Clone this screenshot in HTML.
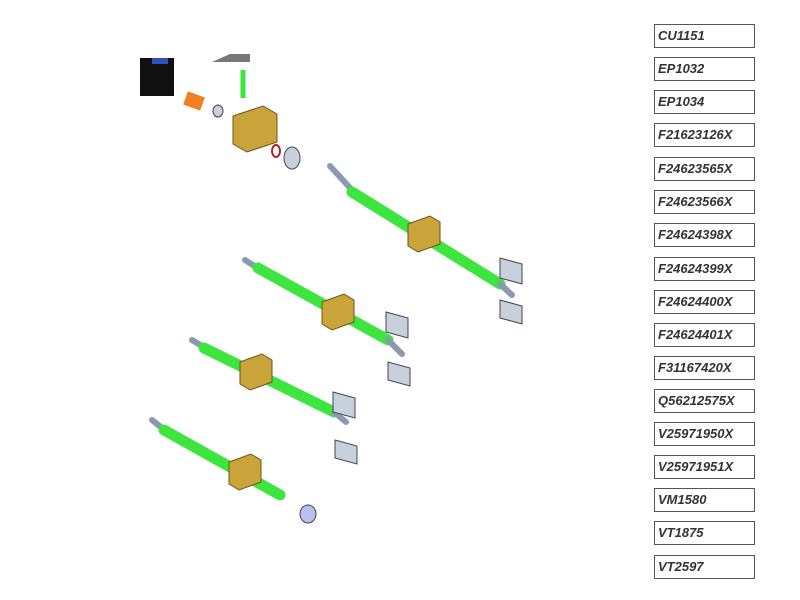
<!DOCTYPE html><html><head><style>body{margin:0;background:#fff}
.b{position:absolute;left:654px;border:1px solid #555;font:italic bold 13px "Liberation Sans",sans-serif;color:#333;line-height:22px;padding-left:3px;box-sizing:border-box;width:101px;height:24px}
</style></head><body><div style="position:relative;width:800px;height:600px;overflow:hidden">
<svg width="800" height="600" style="position:absolute;left:0;top:0">
<g stroke-linecap="round">
<line x1="330" y1="166" x2="352" y2="190" stroke="#8a9ab0" stroke-width="6"/>
<line x1="352" y1="192" x2="500" y2="284" stroke="#3ee53e" stroke-width="11"/>
<line x1="500" y1="284" x2="512" y2="295" stroke="#8a9ab0" stroke-width="6"/>
<line x1="245" y1="260" x2="256" y2="267" stroke="#8a9ab0" stroke-width="6"/>
<line x1="258" y1="268" x2="388" y2="340" stroke="#3ee53e" stroke-width="11"/>
<line x1="388" y1="340" x2="402" y2="354" stroke="#8a9ab0" stroke-width="6"/>
<line x1="192" y1="340" x2="202" y2="346" stroke="#8a9ab0" stroke-width="6"/>
<line x1="204" y1="348" x2="334" y2="412" stroke="#3ee53e" stroke-width="11"/>
<line x1="334" y1="412" x2="346" y2="422" stroke="#8a9ab0" stroke-width="6"/>
<line x1="152" y1="420" x2="162" y2="428" stroke="#8a9ab0" stroke-width="6"/>
<line x1="164" y1="430" x2="280" y2="495" stroke="#3ee53e" stroke-width="11"/>
</g>
<g fill="#c9a43a" stroke="#6b5418" stroke-width="1">
<path d="M408 224 l22 -8 l10 6 v22 l-22 8 l-10 -6z"/>
<path d="M322 302 l22 -8 l10 6 v22 l-22 8 l-10 -6z"/>
<path d="M240 362 l22 -8 l10 6 v22 l-22 8 l-10 -6z"/>
<path d="M229 462 l22 -8 l10 6 v22 l-22 8 l-10 -6z"/>
<path d="M233 116 l30 -10 l14 8 v28 l-30 10 l-14 -8z"/>
</g>
<g fill="#c8d0dc" stroke="#445" stroke-width="1">
<path d="M500 258 l22 6 v20 l-22 -6z"/><path d="M500 300 l22 6 v18 l-22 -6z"/>
<path d="M386 312 l22 6 v20 l-22 -6z"/><path d="M388 362 l22 6 v18 l-22 -6z"/>
<path d="M333 392 l22 6 v20 l-22 -6z"/><path d="M335 440 l22 6 v18 l-22 -6z"/>
<ellipse cx="292" cy="158" rx="8" ry="11"/>
<ellipse cx="218" cy="111" rx="5" ry="6"/>
</g>
<ellipse cx="308" cy="514" rx="8" ry="9" fill="#b8c0f0" stroke="#445"/>
<ellipse cx="276" cy="151" rx="4" ry="6" fill="none" stroke="#b02020" stroke-width="2"/>
<rect x="140" y="58" width="34" height="38" fill="#111"/>
<rect x="152" y="58" width="16" height="6" fill="#3050c0"/>
<rect x="185" y="94" width="18" height="14" fill="#f08020" transform="rotate(20 194 101)"/>
<line x1="243" y1="70" x2="243" y2="98" stroke="#3ee53e" stroke-width="5"/>
<path d="M212 62 l18 -8 h20 v8 h-24z" fill="#777"/>
</svg>
<div class="b" style="top:24px">CU1151</div><div class="b" style="top:57px">EP1032</div><div class="b" style="top:90px">EP1034</div>
<div class="b" style="top:123px">F21623126X</div><div class="b" style="top:157px">F24623565X</div><div class="b" style="top:190px">F24623566X</div>
<div class="b" style="top:223px">F24624398X</div><div class="b" style="top:257px">F24624399X</div><div class="b" style="top:290px">F24624400X</div>
<div class="b" style="top:323px">F24624401X</div><div class="b" style="top:356px">F31167420X</div><div class="b" style="top:389px">Q56212575X</div>
<div class="b" style="top:422px">V25971950X</div><div class="b" style="top:455px">V25971951X</div><div class="b" style="top:488px">VM1580</div>
<div class="b" style="top:521px">VT1875</div><div class="b" style="top:555px">VT2597</div>
</div></body></html>
